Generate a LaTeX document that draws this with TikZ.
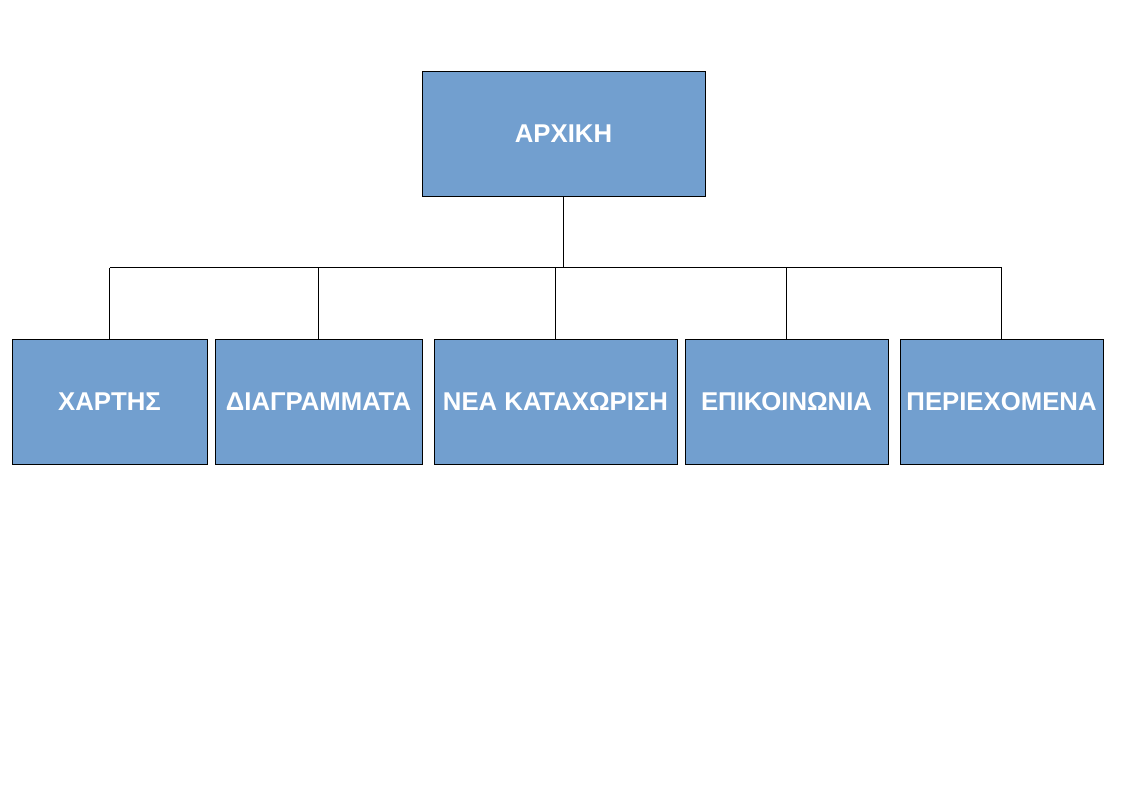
\documentclass[tikz,border=0pt]{standalone}
\usepackage{fontspec}
\setmainfont{Liberation Sans}
\usetikzlibrary{positioning}

\definecolor{boxblue}{HTML}{729FCF}

\tikzset{
  menubox/.style={
    rectangle,
    fill=boxblue,
    draw=black,
    line width=0.75pt,
    inner sep=0pt,
    minimum height=93.75pt,
    text=white,
    font=\fontsize{19.3}{19.3}\selectfont\bfseries,
  },
  link/.style={line width=0.75pt, black},
}

\begin{document}
\begin{tikzpicture}[x=0.75pt, y=-0.75pt]
  \useasboundingbox (0, 0) rectangle (1123, 794);

  % Home page
  \node[menubox, minimum width=212.25pt] (home) at (563.5, 133.5) {ΑΡΧΙΚΗ};

  % Sub pages
  \node[menubox, minimum width=146.25pt] (map) at (109.5, 401.5) {ΧΑΡΤΗΣ};
  \node[menubox, minimum width=155.25pt] (charts) at (318.5, 401.5) {ΔΙΑΓΡΑΜΜΑΤΑ};
  \node[menubox, minimum width=182.25pt] (entry) at (555.5, 401.5) {ΝΕΑ ΚΑΤΑΧΩΡΙΣΗ};
  \node[menubox, minimum width=152.25pt] (contact) at (786.5, 401.5) {ΕΠΙΚΟΙΝΩΝΙΑ};
  \node[menubox, minimum width=152.25pt] (contents) at (1001.5, 401.5) {ΠΕΡΙΕΧΟΜΕΝΑ};

  % Connectors
  \coordinate (busl) at (109.5, 267.5);
  \coordinate (busr) at (1001.5, 267.5);

  \draw[link] (home.south) -- (home.south |- busl);
  \draw[link] (busl) -- (busr);
  \foreach \page in {map, charts, entry, contact, contents} {
    \draw[link] (\page.north) -- (\page.north |- busl);
  }
\end{tikzpicture}
\end{document}
